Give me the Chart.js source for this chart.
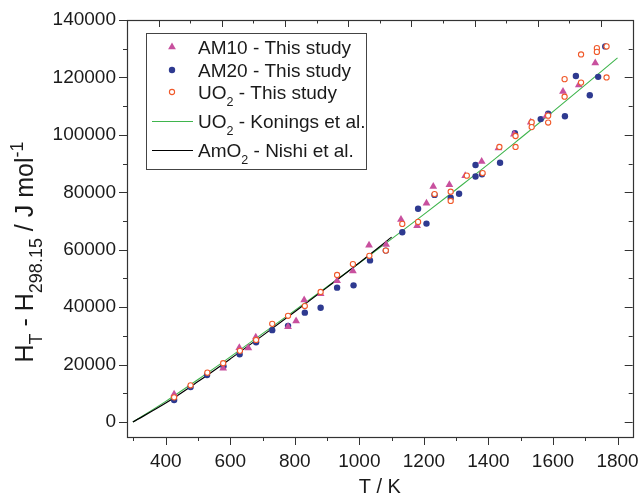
<!DOCTYPE html>
<html>
<head>
<meta charset="utf-8">
<script src="https://cdn.jsdelivr.net/npm/chart.js@4.4.1/dist/chart.umd.min.js"></script>
<style>
  html, body { margin: 0; padding: 0; background: #fff; }
  #wrap { width: 644px; height: 496px; }
</style>
</head>
<body>
<div id="wrap"><canvas id="enthalpyChart"></canvas></div>
<script>
// AM10 - this study (triangles)
const am10T = [426, 578, 628, 656, 679, 779, 804, 829, 880, 931, 980, 1030, 1083, 1129, 1179, 1208, 1229, 1279, 1328, 1379, 1431, 1479, 1531, 1579, 1631, 1680, 1731];
const am10H = [9700, 18700, 25900, 25800, 29500, 33200, 35200, 42500, 44700, 49200, 52600, 61600, 61800, 70500, 68400, 76200, 82000, 82600, 85800, 90700, 95400, 100200, 104400, 106600, 115100, 117400, 125000];

// AM20 - this study (filled circles)
const am20T = [426, 477, 528, 579, 629, 680, 730, 779, 831, 880, 931, 982, 1033, 1082, 1133, 1182, 1208, 1233, 1283, 1309, 1360, 1360, 1380, 1436, 1482, 1562, 1585, 1637, 1671, 1714, 1740, 1762];
const am20H = [7700, 12200, 16400, 19400, 23600, 27800, 32000, 33500, 38100, 39800, 46800, 47600, 56300, 59700, 66100, 74300, 69100, 79100, 78100, 79500, 89500, 85500, 86300, 90300, 100600, 105500, 107400, 106500, 120500, 113800, 120200, 130800];

// UO2 - this study (open circles)
const uo2T = [426, 477, 529, 578, 630, 680, 730, 779, 831, 880, 931, 980, 1031, 1082, 1133, 1182, 1233, 1283, 1283, 1333, 1382, 1434, 1484, 1484, 1534, 1534, 1585, 1585, 1636, 1636, 1687, 1687, 1736, 1736, 1766, 1766];
const uo2H = [8600, 12800, 17200, 20500, 24800, 28600, 34200, 37000, 40400, 45300, 51200, 55000, 57900, 59700, 69000, 69700, 79400, 80200, 77000, 85800, 86700, 95800, 99600, 95800, 104400, 102700, 106700, 104300, 119400, 113300, 128000, 118200, 130200, 128900, 130800, 120000];

// UO2 - Konings et al. (green curve)
const koningsT = [298.15, 400, 500, 600, 700, 800, 900, 1000, 1100, 1200, 1300, 1400, 1500, 1600, 1700, 1800];
const koningsH = [0, 7200, 14800, 22700, 30800, 38900, 47100, 55400, 63800, 72300, 81000, 89800, 98900, 108100, 117400, 126800];

// AmO2 - Nishi et al. (black curve)
const nishiT = [298.15, 400, 500, 600, 700, 800, 900, 1000, 1100];
const nishiH = [0, 6600, 14100, 22000, 30100, 38400, 46900, 55500, 64400];

// axis ticks
const xMajor = [400, 600, 800, 1000, 1200, 1400, 1600, 1800];
const xMinor = [300, 500, 700, 900, 1100, 1300, 1500, 1700];
const topTicks = [300, 400, 500, 600, 700, 800, 900, 1000, 1100, 1200, 1300, 1400, 1500, 1600, 1700];
const yMajor = [0, 20000, 40000, 60000, 80000, 100000, 120000, 140000];
const yMinor = [10000, 30000, 50000, 70000, 90000, 110000, 130000];

const FONT = '"Liberation Sans", Arial, sans-serif';
const PINK = '#c8509e', BLUE = '#2e3a90', ORANGE = '#f0592a', GREEN = '#3fb54d';

const pts = (xs, ys) => xs.map((x, i) => ({ x: x, y: ys[i] }));

// text with sub/superscripts: parts = [[text, 'n'|'sub'|'sup'], ...]
function drawRich(ctx, parts, x, y, size, align, k) {
  k = k || 0.66;
  const sz = m => (m === 'n' ? size : size * k);
  let w = 0;
  parts.forEach(([t, m]) => { ctx.font = sz(m) + 'px ' + FONT; w += ctx.measureText(t).width; });
  let cx = align === 'center' ? x - w / 2 : x;
  parts.forEach(([t, m]) => {
    ctx.font = sz(m) + 'px ' + FONT;
    const dy = m === 'sub' ? size * 0.37 : m === 'sup' ? -size * 0.4 : 0;
    ctx.fillText(t, cx, y + dy);
    cx += ctx.measureText(t).width;
  });
}

const legendRows = [
  { y: 47, kind: 'tri', parts: [['AM10 - This study', 'n']] },
  { y: 70, kind: 'dot', parts: [['AM20 - This study', 'n']] },
  { y: 92, kind: 'ring', parts: [['UO', 'n'], ['2', 'sub'], [' - This study', 'n']] },
  { y: 121, kind: 'green', parts: [['UO', 'n'], ['2', 'sub'], [' - Konings et al.', 'n']] },
  { y: 150, kind: 'black', parts: [['AmO', 'n'], ['2', 'sub'], [' - Nishi et al.', 'n']] }
];

const framePlugin = {
  id: 'frame',
  afterDraw(chart) {
    const { ctx, chartArea: a, scales } = chart;
    const x = scales.x, x2 = scales.x2, y = scales.y;
    const px = v => Math.round(v) + 0.5;
    ctx.save();
    ctx.strokeStyle = '#333';
    ctx.lineWidth = 1.2;
    ctx.strokeRect(px(a.left), px(a.top), Math.round(a.right - a.left), Math.round(a.bottom - a.top));

    ctx.lineWidth = 1;
    ctx.beginPath();
    xMajor.forEach(v => { const p = px(x.getPixelForValue(v)); ctx.moveTo(p, a.bottom); ctx.lineTo(p, a.bottom + 8); });
    xMinor.forEach(v => { const p = px(x.getPixelForValue(v)); ctx.moveTo(p, a.bottom); ctx.lineTo(p, a.bottom + 4); });
    topTicks.forEach(v => {
      const p = px(x2.getPixelForValue(v));
      const len = (v / 100) % 2 === 1 ? 7 : 3.5;
      ctx.moveTo(p, a.top); ctx.lineTo(p, a.top + len);
    });
    yMajor.forEach(v => {
      const p = px(y.getPixelForValue(v));
      ctx.moveTo(a.left, p); ctx.lineTo(a.left - 8, p);
      ctx.moveTo(a.right, p); ctx.lineTo(a.right - 8, p);
    });
    yMinor.forEach(v => {
      const p = px(y.getPixelForValue(v));
      ctx.moveTo(a.left, p); ctx.lineTo(a.left - 4, p);
      ctx.moveTo(a.right, p); ctx.lineTo(a.right - 4, p);
    });
    ctx.stroke();

    // legend
    ctx.fillStyle = '#fff';
    ctx.fillRect(146, 33, 220, 136);
    ctx.strokeStyle = '#444';
    ctx.lineWidth = 1;
    ctx.strokeRect(146.5, 33.5, 220, 136);
    legendRows.forEach(r => {
      if (r.kind === 'green' || r.kind === 'black') {
        ctx.strokeStyle = r.kind === 'green' ? GREEN : '#000';
        ctx.lineWidth = 1;
        ctx.beginPath();
        ctx.moveTo(152, r.y + 0.5); ctx.lineTo(193, r.y + 0.5);
        ctx.stroke();
      } else if (r.kind === 'tri') {
        ctx.fillStyle = PINK; ctx.strokeStyle = PINK;
        Chart.helpers.drawPoint(ctx, { pointStyle: 'triangle', radius: 4.5, borderWidth: 0, rotation: 0 }, 172, r.y);
      } else if (r.kind === 'dot') {
        ctx.fillStyle = BLUE; ctx.strokeStyle = BLUE;
        Chart.helpers.drawPoint(ctx, { pointStyle: 'circle', radius: 3.2, borderWidth: 0, rotation: 0 }, 172, r.y);
      } else {
        ctx.fillStyle = '#fff'; ctx.strokeStyle = ORANGE; ctx.lineWidth = 1.1;
        Chart.helpers.drawPoint(ctx, { pointStyle: 'circle', radius: 2.6, borderWidth: 1.1, rotation: 0 }, 172, r.y);
      }
      ctx.fillStyle = '#1a1a1a';
      ctx.textBaseline = 'alphabetic';
      ctx.textAlign = 'left';
      drawRich(ctx, r.parts, 198, r.y + 6.8, 19, 'left');
    });

    // axis titles
    ctx.fillStyle = '#1a1a1a';
    ctx.textAlign = 'left';
    ctx.textBaseline = 'alphabetic';
    drawRich(ctx, [['T / K', 'n']], (a.left + a.right) / 2, 493, 20, 'center');

    ctx.save();
    ctx.translate(33, 252);
    ctx.rotate(-Math.PI / 2);
    drawRich(ctx, [['H', 'n'], ['T', 'sub'], [' - H', 'n'], ['298.15', 'sub'], [' / J mol', 'n'], ['-1', 'sup']], 0, 0, 25, 'center', 0.72);
    ctx.restore();

    ctx.restore();
  }
};

new Chart(document.getElementById('enthalpyChart'), {
  type: 'scatter',
  data: {
    datasets: [
      {
        label: 'UO2 - This study',
        data: pts(uo2T, uo2H),
        pointStyle: 'circle',
        pointRadius: 2.6,
        pointBackgroundColor: '#fff',
        pointBorderColor: ORANGE,
        pointBorderWidth: 1.1,
        order: 0
      },
      {
        label: 'AM10 - This study',
        data: pts(am10T, am10H),
        pointStyle: 'triangle',
        pointRadius: 4.5,
        pointBackgroundColor: PINK,
        pointBorderColor: PINK,
        pointBorderWidth: 0,
        order: 1
      },
      {
        label: 'AM20 - This study',
        data: pts(am20T, am20H),
        pointStyle: 'circle',
        pointRadius: 3.2,
        pointBackgroundColor: BLUE,
        pointBorderColor: BLUE,
        pointBorderWidth: 0,
        order: 2
      },
      {
        label: 'AmO2 - Nishi et al.',
        data: pts(nishiT, nishiH),
        showLine: true,
        borderColor: '#000',
        borderWidth: 1.2,
        pointRadius: 0,
        cubicInterpolationMode: 'monotone',
        order: 3
      },
      {
        label: 'UO2 - Konings et al.',
        data: pts(koningsT, koningsH),
        showLine: true,
        borderColor: GREEN,
        borderWidth: 1.1,
        pointRadius: 0,
        cubicInterpolationMode: 'monotone',
        order: 4
      }
    ]
  },
  options: {
    responsive: true,
    maintainAspectRatio: false,
    animation: false,
    devicePixelRatio: 1,
    layout: { padding: { top: 20, right: 7, left: 0, bottom: 0 } },
    plugins: {
      legend: { display: false },
      tooltip: { enabled: false }
    },
    scales: {
      x: {
        type: 'linear',
        position: 'bottom',
        min: 280,
        max: 1847,
        grid: { display: false },
        border: { display: false },
        afterBuildTicks: s => { s.ticks = xMajor.map(v => ({ value: v })); },
        afterFit: s => { s.height = 59; },
        ticks: {
          color: '#1a1a1a',
          font: { family: FONT, size: 19 },
          padding: 5,
          maxRotation: 0,
          autoSkip: false,
          callback: v => String(v)
        }
      },
      x2: {
        type: 'linear',
        position: 'top',
        display: false,
        min: 200,
        max: 1800
      },
      y: {
        min: -5200,
        max: 140000,
        grid: { display: false },
        border: { display: false },
        afterBuildTicks: s => { s.ticks = yMajor.map(v => ({ value: v })); },
        afterFit: s => { s.width = 127; },
        ticks: {
          color: '#1a1a1a',
          font: { family: FONT, size: 19 },
          padding: 3,
          autoSkip: false,
          callback: v => String(v)
        }
      }
    }
  },
  plugins: [framePlugin]
});
</script>
</body>
</html>
